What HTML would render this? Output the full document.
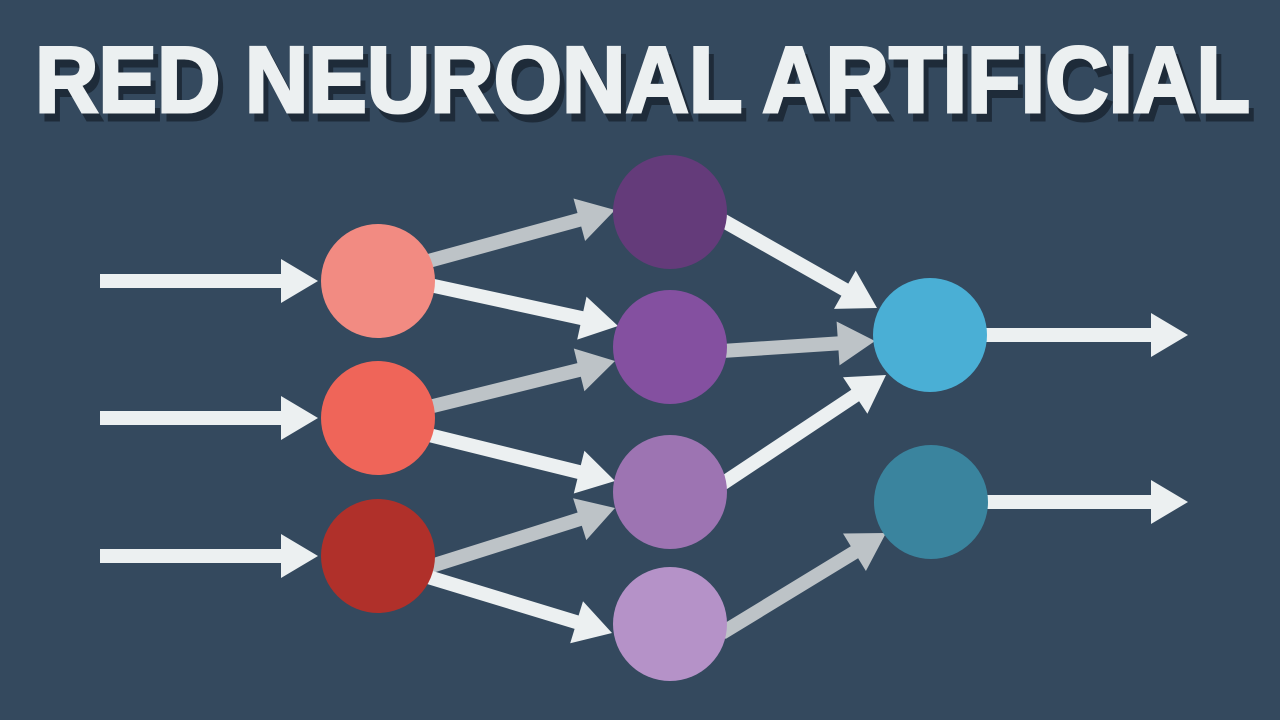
<!DOCTYPE html>
<html><head><meta charset="utf-8"><style>
html,body{margin:0;padding:0;background:#34495e;}
svg{display:block}
</style></head><body>
<svg id="s" width="1280" height="720" viewBox="0 0 1280 720" xmlns="http://www.w3.org/2000/svg">
<rect width="1280" height="720" fill="#34495e"/>
<text x="40" y="120" textLength="1215" lengthAdjust="spacingAndGlyphs" font-family="Liberation Sans, sans-serif" font-weight="bold" font-size="94" fill="#1e2b39" stroke="#1e2b39" stroke-width="3">RED NEURONAL ARTIFICIAL</text>
<text x="35" y="112" textLength="1215" lengthAdjust="spacingAndGlyphs" font-family="Liberation Sans, sans-serif" font-weight="bold" font-size="94" fill="#ecf0f1" stroke="#ecf0f1" stroke-width="3">RED NEURONAL ARTIFICIAL</text>
<g id="arrows"></g>
<circle cx="378" cy="281" r="57" fill="#f28b82"/>
<circle cx="378" cy="418" r="57" fill="#ef6559"/>
<circle cx="378" cy="556" r="57" fill="#b0302a"/>
<circle cx="670" cy="212" r="57" fill="#643b7a"/>
<circle cx="670" cy="347" r="57" fill="#8450a0"/>
<circle cx="670" cy="492" r="57" fill="#9d74b2"/>
<circle cx="670" cy="624" r="57" fill="#b592c8"/>
<circle cx="930" cy="335" r="57" fill="#4aafd5"/>
<circle cx="931" cy="502" r="57" fill="#3a849e"/>
</svg>
<script>
var W="#ecf0f1",G="#bdc3c7";
var A=[
[100,281,318,281,W],[100,418,318,418,W],[100,556,318,556,W],
[985,335,1188,335,W],[985,502,1188,502,W],
[425,262,615,210,G],[425,284,618,326,W],
[425,408,615,361,G],[425,434,615,481,W],
[425,568,615,508,G],[425,576,612,633,W],
[722,220,877,308,W],[722,351,875,341,G],
[722,484,886,375,W],[722,633,886,533,G]
];
var g=document.getElementById("arrows"),h="";
A.forEach(function(a){
var x1=a[0],y1=a[1],x2=a[2],y2=a[3],c=a[4];
var dx=x2-x1,dy=y2-y1,L=Math.hypot(dx,dy),ux=dx/L,uy=dy/L,nx=-uy,ny=ux;
var hl=37,hw=22,lw=7;
var bx=x2-ux*hl,by=y2-uy*hl;
var p=[[x1+nx*lw,y1+ny*lw],[bx+nx*lw,by+ny*lw],[bx+nx*hw,by+ny*hw],[x2,y2],[bx-nx*hw,by-ny*hw],[bx-nx*lw,by-ny*lw],[x1-nx*lw,y1-ny*lw]];
h+='<polygon fill="'+c+'" points="'+p.map(function(q){return q[0].toFixed(1)+","+q[1].toFixed(1)}).join(" ")+'"/>';
});
g.innerHTML=h;
</script>
</body></html>
